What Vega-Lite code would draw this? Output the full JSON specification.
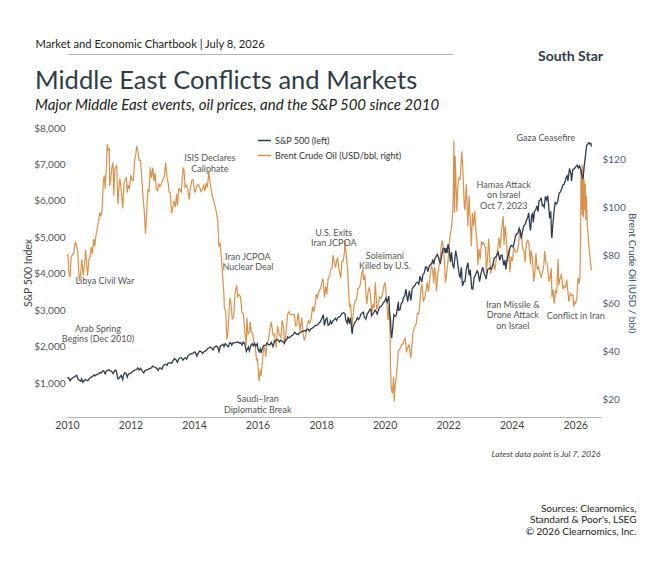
{
"$schema": "https://vega.github.io/schema/vega-lite/v6.json",
"width": 534, "height": 289,
"autosize": {"type": "none"},
"padding": {"left": 67, "top": 128, "right": 61, "bottom": 145},
"background": "white",
"title": {"text": "Middle East Conflicts and Markets", "subtitle": "Major Middle East events, oil prices, and the S&P 500 since 2010", "anchor": "start", "frame": "group", "dx": -32, "offset": -75, "fontSize": 25.5, "fontWeight": "normal", "color": "#2f3b47", "font": "Lato", "subtitleFont": "Lato", "subtitleFontSize": 15, "subtitleFontStyle": "italic", "subtitleColor": "#222222", "subtitlePadding": 4},
"config": {"font": "Lato", "view": {"stroke": null}},
"datasets": {
"oil": [
{"date":"2010-01-04","value":80.1},{"date":"2010-01-11","value":80.5},{"date":"2010-01-25","value":72.6},{"date":"2010-02-05","value":71.2},{"date":"2010-02-19","value":79.8},{"date":"2010-03-05","value":80.5},{"date":"2010-03-19","value":81.0},{"date":"2010-04-06","value":86.0},{"date":"2010-04-20","value":84.3},{"date":"2010-05-04","value":82.1},{"date":"2010-05-20","value":71.5},{"date":"2010-05-25","value":69.5},{"date":"2010-06-08","value":73.1},{"date":"2010-06-21","value":78.5},{"date":"2010-07-06","value":71.8},{"date":"2010-07-20","value":76.0},{"date":"2010-08-04","value":82.5},{"date":"2010-08-16","value":76.3},{"date":"2010-08-25","value":71.8},{"date":"2010-09-10","value":78.4},{"date":"2010-09-24","value":79.9},{"date":"2010-10-07","value":83.7},{"date":"2010-10-20","value":80.8},{"date":"2010-11-04","value":87.0},{"date":"2010-11-16","value":84.0},{"date":"2010-12-01","value":88.9},{"date":"2010-12-15","value":91.4},{"date":"2010-12-31","value":94.8},
{"date":"2011-01-12","value":98.0},{"date":"2011-01-26","value":96.5},{"date":"2011-02-09","value":99.4},{"date":"2011-02-23","value":111.3},{"date":"2011-03-07","value":113.5},{"date":"2011-03-16","value":108.0},{"date":"2011-03-31","value":117.4},{"date":"2011-04-08","value":126.6},{"date":"2011-04-20","value":123.8},{"date":"2011-05-02","value":125.0},{"date":"2011-05-06","value":109.1},{"date":"2011-05-17","value":111.6},{"date":"2011-05-31","value":116.7},{"date":"2011-06-14","value":119.0},{"date":"2011-06-23","value":105.1},{"date":"2011-07-06","value":116.5},{"date":"2011-07-27","value":117.6},{"date":"2011-08-09","value":101.5},{"date":"2011-08-22","value":108.4},{"date":"2011-09-02","value":112.3},{"date":"2011-09-22","value":105.4},{"date":"2011-10-04","value":99.8},{"date":"2011-10-19","value":110.3},{"date":"2011-11-04","value":111.9},{"date":"2011-11-15","value":112.8},{"date":"2011-11-25","value":106.4},{"date":"2011-12-07","value":109.6},{"date":"2011-12-21","value":107.8},
{"date":"2012-01-05","value":113.7},{"date":"2012-01-19","value":111.6},{"date":"2012-02-03","value":111.4},{"date":"2012-02-17","value":119.6},{"date":"2012-02-29","value":121.8},{"date":"2012-03-13","value":125.9},{"date":"2012-03-28","value":122.9},{"date":"2012-04-11","value":119.8},{"date":"2012-04-26","value":119.9},{"date":"2012-05-09","value":112.7},{"date":"2012-05-23","value":105.4},{"date":"2012-06-05","value":99.8},{"date":"2012-06-22","value":89.2},{"date":"2012-07-06","value":98.2},{"date":"2012-07-19","value":107.8},{"date":"2012-08-02","value":106.5},{"date":"2012-08-16","value":116.9},{"date":"2012-08-30","value":112.5},{"date":"2012-09-14","value":116.7},{"date":"2012-09-27","value":111.0},{"date":"2012-10-10","value":114.5},{"date":"2012-10-25","value":107.8},{"date":"2012-11-07","value":107.2},{"date":"2012-11-21","value":109.9},{"date":"2012-12-05","value":108.9},{"date":"2012-12-19","value":110.0},
{"date":"2013-01-09","value":111.9},{"date":"2013-01-25","value":113.3},{"date":"2013-02-08","value":118.9},{"date":"2013-02-26","value":112.2},{"date":"2013-03-08","value":110.9},{"date":"2013-03-21","value":106.6},{"date":"2013-04-04","value":106.3},{"date":"2013-04-17","value":97.7},{"date":"2013-05-01","value":99.9},{"date":"2013-05-15","value":102.9},{"date":"2013-05-31","value":100.4},{"date":"2013-06-14","value":105.9},{"date":"2013-06-24","value":100.9},{"date":"2013-07-09","value":107.8},{"date":"2013-07-19","value":108.1},{"date":"2013-08-07","value":106.3},{"date":"2013-08-27","value":116.6},{"date":"2013-09-06","value":116.1},{"date":"2013-09-20","value":108.6},{"date":"2013-10-04","value":109.5},{"date":"2013-10-22","value":107.8},{"date":"2013-11-07","value":103.5},{"date":"2013-11-20","value":108.0},{"date":"2013-12-06","value":111.6},{"date":"2013-12-20","value":111.8},
{"date":"2014-01-09","value":106.4},{"date":"2014-01-23","value":107.8},{"date":"2014-02-07","value":109.6},{"date":"2014-02-25","value":109.5},{"date":"2014-03-10","value":108.2},{"date":"2014-03-24","value":106.8},{"date":"2014-04-09","value":107.9},{"date":"2014-04-22","value":109.3},{"date":"2014-05-06","value":107.0},{"date":"2014-05-21","value":110.4},{"date":"2014-06-04","value":108.6},{"date":"2014-06-19","value":115.1},{"date":"2014-07-03","value":110.8},{"date":"2014-07-18","value":107.2},{"date":"2014-08-01","value":104.8},{"date":"2014-08-15","value":102.9},{"date":"2014-09-02","value":100.3},{"date":"2014-09-16","value":98.0},{"date":"2014-09-30","value":94.7},{"date":"2014-10-15","value":83.8},{"date":"2014-10-28","value":85.4},{"date":"2014-11-13","value":78.6},{"date":"2014-11-28","value":70.2},{"date":"2014-12-10","value":64.2},{"date":"2014-12-16","value":58.0},{"date":"2014-12-31","value":57.3},
{"date":"2015-01-13","value":45.2},{"date":"2015-01-26","value":48.2},{"date":"2015-02-09","value":57.8},{"date":"2015-02-17","value":62.5},{"date":"2015-03-02","value":60.0},{"date":"2015-03-17","value":53.5},{"date":"2015-04-02","value":54.9},{"date":"2015-04-16","value":63.9},{"date":"2015-05-06","value":67.8},{"date":"2015-05-19","value":63.0},{"date":"2015-06-03","value":63.8},{"date":"2015-06-19","value":63.0},{"date":"2015-07-06","value":56.5},{"date":"2015-07-21","value":56.1},{"date":"2015-08-07","value":48.6},{"date":"2015-08-24","value":42.7},{"date":"2015-08-31","value":54.2},{"date":"2015-09-14","value":47.6},{"date":"2015-09-30","value":48.4},{"date":"2015-10-09","value":52.7},{"date":"2015-10-22","value":48.0},{"date":"2015-11-05","value":47.9},{"date":"2015-11-19","value":44.1},{"date":"2015-12-04","value":43.0},{"date":"2015-12-21","value":36.4},{"date":"2015-12-31","value":37.3},
{"date":"2016-01-12","value":30.9},{"date":"2016-01-20","value":27.9},{"date":"2016-02-02","value":32.7},{"date":"2016-02-11","value":30.1},{"date":"2016-02-25","value":35.3},{"date":"2016-03-09","value":41.1},{"date":"2016-03-22","value":41.8},{"date":"2016-04-05","value":37.9},{"date":"2016-04-19","value":44.0},{"date":"2016-05-04","value":44.6},{"date":"2016-05-19","value":48.8},{"date":"2016-06-08","value":52.5},{"date":"2016-06-27","value":47.2},{"date":"2016-07-12","value":47.4},{"date":"2016-08-02","value":41.8},{"date":"2016-08-18","value":50.9},{"date":"2016-09-06","value":47.3},{"date":"2016-09-27","value":46.0},{"date":"2016-10-10","value":53.1},{"date":"2016-10-25","value":50.8},{"date":"2016-11-03","value":45.0},{"date":"2016-11-14","value":44.4},{"date":"2016-11-30","value":50.5},{"date":"2016-12-12","value":55.7},{"date":"2016-12-30","value":56.8},
{"date":"2017-01-13","value":55.5},{"date":"2017-01-27","value":55.5},{"date":"2017-02-14","value":55.6},{"date":"2017-02-28","value":55.6},{"date":"2017-03-14","value":50.9},{"date":"2017-03-28","value":51.3},{"date":"2017-04-11","value":56.2},{"date":"2017-04-27","value":51.8},{"date":"2017-05-05","value":48.6},{"date":"2017-05-24","value":54.2},{"date":"2017-06-07","value":48.1},{"date":"2017-06-21","value":44.8},{"date":"2017-07-07","value":46.7},{"date":"2017-07-27","value":51.5},{"date":"2017-08-10","value":52.9},{"date":"2017-08-24","value":52.0},{"date":"2017-09-08","value":53.8},{"date":"2017-09-26","value":59.0},{"date":"2017-10-10","value":56.6},{"date":"2017-10-27","value":60.4},{"date":"2017-11-07","value":64.2},{"date":"2017-11-21","value":62.6},{"date":"2017-12-11","value":65.7},{"date":"2017-12-27","value":66.4},
{"date":"2018-01-10","value":69.2},{"date":"2018-01-24","value":70.5},{"date":"2018-02-09","value":62.8},{"date":"2018-02-23","value":67.3},{"date":"2018-03-08","value":64.0},{"date":"2018-03-23","value":70.5},{"date":"2018-04-11","value":72.1},{"date":"2018-04-26","value":74.7},{"date":"2018-05-08","value":74.9},{"date":"2018-05-17","value":80.3},{"date":"2018-05-31","value":77.6},{"date":"2018-06-18","value":75.3},{"date":"2018-06-28","value":77.9},{"date":"2018-07-10","value":78.9},{"date":"2018-07-26","value":74.5},{"date":"2018-08-15","value":70.8},{"date":"2018-08-30","value":77.8},{"date":"2018-09-14","value":78.1},{"date":"2018-09-27","value":81.7},{"date":"2018-10-03","value":86.3},{"date":"2018-10-18","value":80.3},{"date":"2018-10-31","value":75.5},{"date":"2018-11-13","value":65.5},{"date":"2018-11-23","value":58.8},{"date":"2018-12-06","value":60.1},{"date":"2018-12-24","value":50.5},{"date":"2018-12-31","value":53.8},
{"date":"2019-01-14","value":59.0},{"date":"2019-01-29","value":61.3},{"date":"2019-02-11","value":61.5},{"date":"2019-02-27","value":66.3},{"date":"2019-03-12","value":66.7},{"date":"2019-03-26","value":67.9},{"date":"2019-04-10","value":71.7},{"date":"2019-04-25","value":74.6},{"date":"2019-05-07","value":69.9},{"date":"2019-05-20","value":72.0},{"date":"2019-05-31","value":64.5},{"date":"2019-06-12","value":59.9},{"date":"2019-06-25","value":65.1},{"date":"2019-07-10","value":67.0},{"date":"2019-07-24","value":63.2},{"date":"2019-08-07","value":56.2},{"date":"2019-08-22","value":60.0},{"date":"2019-09-03","value":58.3},{"date":"2019-09-16","value":69.0},{"date":"2019-09-30","value":60.8},{"date":"2019-10-03","value":57.7},{"date":"2019-10-18","value":59.4},{"date":"2019-11-05","value":62.9},{"date":"2019-11-20","value":62.4},{"date":"2019-12-05","value":63.4},{"date":"2019-12-26","value":67.9},
{"date":"2020-01-06","value":68.9},{"date":"2020-01-17","value":64.9},{"date":"2020-01-31","value":58.2},{"date":"2020-02-10","value":53.3},{"date":"2020-02-20","value":59.3},{"date":"2020-03-06","value":45.3},{"date":"2020-03-09","value":34.4},{"date":"2020-03-18","value":24.9},{"date":"2020-03-31","value":22.7},{"date":"2020-04-14","value":29.6},{"date":"2020-04-21","value":19.3},{"date":"2020-04-30","value":25.3},{"date":"2020-05-13","value":29.2},{"date":"2020-05-29","value":35.3},{"date":"2020-06-08","value":40.8},{"date":"2020-06-25","value":41.1},{"date":"2020-07-14","value":42.9},{"date":"2020-07-30","value":43.3},{"date":"2020-08-14","value":45.0},{"date":"2020-08-26","value":45.6},{"date":"2020-09-08","value":39.8},{"date":"2020-09-24","value":41.9},{"date":"2020-10-09","value":42.9},{"date":"2020-10-30","value":37.5},{"date":"2020-11-12","value":43.5},{"date":"2020-11-25","value":48.6},{"date":"2020-12-10","value":50.3},{"date":"2020-12-31","value":51.8},
{"date":"2021-01-13","value":56.1},{"date":"2021-01-29","value":55.9},{"date":"2021-02-11","value":61.1},{"date":"2021-02-25","value":66.9},{"date":"2021-03-08","value":68.2},{"date":"2021-03-23","value":60.8},{"date":"2021-04-09","value":62.9},{"date":"2021-04-22","value":65.4},{"date":"2021-05-05","value":68.9},{"date":"2021-05-20","value":65.1},{"date":"2021-06-08","value":72.2},{"date":"2021-06-24","value":75.6},{"date":"2021-07-06","value":74.5},{"date":"2021-07-19","value":68.6},{"date":"2021-07-30","value":75.4},{"date":"2021-08-12","value":71.3},{"date":"2021-08-20","value":65.2},{"date":"2021-09-01","value":71.6},{"date":"2021-09-17","value":75.3},{"date":"2021-09-30","value":78.5},{"date":"2021-10-12","value":83.4},{"date":"2021-10-25","value":86.4},{"date":"2021-11-10","value":82.6},{"date":"2021-11-26","value":72.7},{"date":"2021-12-01","value":68.9},{"date":"2021-12-16","value":73.0},{"date":"2021-12-31","value":77.8},
{"date":"2022-01-12","value":84.7},{"date":"2022-01-27","value":89.3},{"date":"2022-02-09","value":91.6},{"date":"2022-02-24","value":99.1},{"date":"2022-03-01","value":105.0},{"date":"2022-03-08","value":128.0},{"date":"2022-03-16","value":98.0},{"date":"2022-03-23","value":121.6},{"date":"2022-04-11","value":98.5},{"date":"2022-04-21","value":108.3},{"date":"2022-05-06","value":112.4},{"date":"2022-05-19","value":112.0},{"date":"2022-06-08","value":123.6},{"date":"2022-06-21","value":114.7},{"date":"2022-07-06","value":100.7},{"date":"2022-07-14","value":99.1},{"date":"2022-07-29","value":110.0},{"date":"2022-08-16","value":92.3},{"date":"2022-08-29","value":105.1},{"date":"2022-09-14","value":94.1},{"date":"2022-09-26","value":84.1},{"date":"2022-10-07","value":97.9},{"date":"2022-10-20","value":92.4},{"date":"2022-11-04","value":98.6},{"date":"2022-11-17","value":89.8},{"date":"2022-11-30","value":85.4},{"date":"2022-12-09","value":76.1},{"date":"2022-12-22","value":83.0},
{"date":"2023-01-05","value":78.7},{"date":"2023-01-19","value":86.2},{"date":"2023-01-30","value":84.9},{"date":"2023-02-14","value":85.6},{"date":"2023-02-28","value":83.9},{"date":"2023-03-07","value":83.3},{"date":"2023-03-17","value":72.9},{"date":"2023-03-31","value":79.8},{"date":"2023-04-12","value":87.3},{"date":"2023-04-27","value":77.7},{"date":"2023-05-04","value":72.5},{"date":"2023-05-22","value":75.9},{"date":"2023-06-07","value":76.9},{"date":"2023-06-22","value":74.1},{"date":"2023-07-07","value":78.5},{"date":"2023-07-24","value":82.7},{"date":"2023-08-09","value":87.6},{"date":"2023-08-23","value":83.2},{"date":"2023-09-06","value":90.6},{"date":"2023-09-27","value":96.5},{"date":"2023-10-06","value":84.6},{"date":"2023-10-19","value":92.4},{"date":"2023-11-02","value":86.9},{"date":"2023-11-16","value":77.4},{"date":"2023-11-30","value":82.8},{"date":"2023-12-12","value":73.2},{"date":"2023-12-27","value":79.7},
{"date":"2024-01-10","value":77.8},{"date":"2024-01-26","value":83.6},{"date":"2024-02-09","value":82.2},{"date":"2024-02-23","value":81.6},{"date":"2024-03-08","value":82.1},{"date":"2024-03-22","value":85.4},{"date":"2024-04-05","value":91.2},{"date":"2024-04-12","value":90.5},{"date":"2024-04-24","value":88.0},{"date":"2024-05-07","value":83.2},{"date":"2024-05-22","value":81.9},{"date":"2024-06-04","value":77.5},{"date":"2024-06-20","value":85.7},{"date":"2024-07-05","value":86.5},{"date":"2024-07-18","value":85.1},{"date":"2024-08-05","value":76.3},{"date":"2024-08-12","value":82.3},{"date":"2024-08-28","value":78.7},{"date":"2024-09-10","value":69.2},{"date":"2024-09-25","value":73.5},{"date":"2024-10-07","value":81.0},{"date":"2024-10-21","value":74.3},{"date":"2024-11-05","value":75.5},{"date":"2024-11-19","value":73.3},{"date":"2024-12-06","value":71.1},{"date":"2024-12-20","value":72.9},
{"date":"2025-01-06","value":76.3},{"date":"2025-01-15","value":82.0},{"date":"2025-01-28","value":77.5},{"date":"2025-02-11","value":77.0},{"date":"2025-02-26","value":72.5},{"date":"2025-03-05","value":69.3},{"date":"2025-03-19","value":70.8},{"date":"2025-04-02","value":74.9},{"date":"2025-04-09","value":62.8},{"date":"2025-04-23","value":66.1},{"date":"2025-05-05","value":60.2},{"date":"2025-05-20","value":65.4},{"date":"2025-06-02","value":64.6},{"date":"2025-06-19","value":78.9},{"date":"2025-06-26","value":67.7},{"date":"2025-07-10","value":70.2},{"date":"2025-07-28","value":72.5},{"date":"2025-08-12","value":66.1},{"date":"2025-08-29","value":67.5},{"date":"2025-09-12","value":66.9},{"date":"2025-09-26","value":70.1},{"date":"2025-10-09","value":65.2},{"date":"2025-10-20","value":61.0},{"date":"2025-11-05","value":64.4},{"date":"2025-11-20","value":63.5},{"date":"2025-12-05","value":63.8},{"date":"2025-12-16","value":58.9},{"date":"2025-12-31","value":61.0},
{"date":"2026-01-08","value":60.5},{"date":"2026-01-20","value":62.4},{"date":"2026-02-03","value":70.9},{"date":"2026-02-17","value":68.5},{"date":"2026-02-26","value":73.0},{"date":"2026-03-04","value":88.0},{"date":"2026-03-09","value":117.5},{"date":"2026-03-13","value":99.0},{"date":"2026-03-18","value":116.0},{"date":"2026-03-24","value":97.0},{"date":"2026-03-30","value":118.0},{"date":"2026-04-06","value":96.0},{"date":"2026-04-13","value":112.0},{"date":"2026-04-20","value":99.0},{"date":"2026-04-27","value":110.0},{"date":"2026-05-04","value":95.0},{"date":"2026-05-11","value":105.0},{"date":"2026-05-20","value":93.0},{"date":"2026-05-30","value":88.7},{"date":"2026-06-08","value":84.0},{"date":"2026-06-18","value":80.4},{"date":"2026-06-26","value":77.0},{"date":"2026-07-07","value":74.0}
],
"spx": [
{"date":"2010-01-04","value":1133},{"date":"2010-01-19","value":1150},{"date":"2010-02-05","value":1066},{"date":"2010-02-19","value":1109},{"date":"2010-03-05","value":1138},{"date":"2010-03-19","value":1160},{"date":"2010-04-06","value":1189},{"date":"2010-04-23","value":1217},{"date":"2010-05-07","value":1111},{"date":"2010-05-25","value":1074},{"date":"2010-06-07","value":1050},{"date":"2010-06-18","value":1117},{"date":"2010-07-02","value":1022},{"date":"2010-07-16","value":1065},{"date":"2010-07-30","value":1102},{"date":"2010-08-13","value":1079},{"date":"2010-08-27","value":1065},{"date":"2010-09-10","value":1110},{"date":"2010-09-24","value":1148},{"date":"2010-10-08","value":1166},{"date":"2010-10-22","value":1183},{"date":"2010-11-05","value":1225},{"date":"2010-11-19","value":1199},{"date":"2010-12-03","value":1225},{"date":"2010-12-17","value":1244},{"date":"2010-12-31","value":1258},
{"date":"2011-01-14","value":1293},{"date":"2011-01-28","value":1276},{"date":"2011-02-18","value":1343},{"date":"2011-03-04","value":1321},{"date":"2011-03-16","value":1257},{"date":"2011-04-01","value":1332},{"date":"2011-04-29","value":1364},{"date":"2011-05-13","value":1338},{"date":"2011-05-27","value":1331},{"date":"2011-06-15","value":1265},{"date":"2011-07-07","value":1353},{"date":"2011-07-22","value":1345},{"date":"2011-08-08","value":1119},{"date":"2011-08-19","value":1124},{"date":"2011-09-02","value":1174},{"date":"2011-09-16","value":1216},{"date":"2011-10-03","value":1099},{"date":"2011-10-14","value":1225},{"date":"2011-10-27","value":1285},{"date":"2011-11-11","value":1263},{"date":"2011-11-25","value":1159},{"date":"2011-12-09","value":1255},{"date":"2011-12-30","value":1258},
{"date":"2012-01-13","value":1289},{"date":"2012-01-27","value":1316},{"date":"2012-02-10","value":1343},{"date":"2012-02-24","value":1366},{"date":"2012-03-09","value":1370},{"date":"2012-03-26","value":1417},{"date":"2012-04-10","value":1358},{"date":"2012-04-27","value":1403},{"date":"2012-05-11","value":1353},{"date":"2012-06-01","value":1278},{"date":"2012-06-15","value":1342},{"date":"2012-06-29","value":1362},{"date":"2012-07-13","value":1356},{"date":"2012-07-27","value":1385},{"date":"2012-08-10","value":1405},{"date":"2012-08-24","value":1411},{"date":"2012-09-14","value":1466},{"date":"2012-09-28","value":1441},{"date":"2012-10-12","value":1429},{"date":"2012-10-26","value":1411},{"date":"2012-11-15","value":1353},{"date":"2012-11-30","value":1416},{"date":"2012-12-14","value":1413},{"date":"2012-12-28","value":1385},
{"date":"2013-01-11","value":1472},{"date":"2013-01-25","value":1503},{"date":"2013-02-08","value":1518},{"date":"2013-02-25","value":1488},{"date":"2013-03-08","value":1552},{"date":"2013-03-22","value":1556},{"date":"2013-04-05","value":1553},{"date":"2013-04-18","value":1541},{"date":"2013-05-03","value":1614},{"date":"2013-05-21","value":1669},{"date":"2013-06-07","value":1643},{"date":"2013-06-24","value":1573},{"date":"2013-07-12","value":1680},{"date":"2013-07-26","value":1691},{"date":"2013-08-09","value":1691},{"date":"2013-08-27","value":1631},{"date":"2013-09-13","value":1688},{"date":"2013-09-27","value":1691},{"date":"2013-10-08","value":1655},{"date":"2013-10-25","value":1759},{"date":"2013-11-08","value":1770},{"date":"2013-11-22","value":1804},{"date":"2013-12-06","value":1805},{"date":"2013-12-20","value":1818},{"date":"2013-12-31","value":1848},
{"date":"2014-01-15","value":1848},{"date":"2014-02-03","value":1741},{"date":"2014-02-21","value":1836},{"date":"2014-03-07","value":1878},{"date":"2014-03-21","value":1866},{"date":"2014-04-11","value":1815},{"date":"2014-04-25","value":1863},{"date":"2014-05-09","value":1878},{"date":"2014-05-23","value":1900},{"date":"2014-06-06","value":1949},{"date":"2014-06-20","value":1962},{"date":"2014-07-03","value":1985},{"date":"2014-07-18","value":1978},{"date":"2014-08-07","value":1910},{"date":"2014-08-22","value":1988},{"date":"2014-09-05","value":2007},{"date":"2014-09-19","value":2010},{"date":"2014-10-03","value":1967},{"date":"2014-10-15","value":1862},{"date":"2014-10-31","value":2018},{"date":"2014-11-14","value":2039},{"date":"2014-11-28","value":2067},{"date":"2014-12-12","value":2002},{"date":"2014-12-26","value":2088},
{"date":"2015-01-09","value":2044},{"date":"2015-01-30","value":1995},{"date":"2015-02-13","value":2096},{"date":"2015-02-27","value":2104},{"date":"2015-03-11","value":2040},{"date":"2015-03-23","value":2104},{"date":"2015-04-10","value":2102},{"date":"2015-04-24","value":2117},{"date":"2015-05-08","value":2116},{"date":"2015-05-21","value":2131},{"date":"2015-06-05","value":2092},{"date":"2015-06-19","value":2109},{"date":"2015-07-08","value":2046},{"date":"2015-07-20","value":2128},{"date":"2015-08-07","value":2077},{"date":"2015-08-25","value":1868},{"date":"2015-09-04","value":1921},{"date":"2015-09-17","value":1990},{"date":"2015-09-29","value":1884},{"date":"2015-10-16","value":2033},{"date":"2015-10-30","value":2079},{"date":"2015-11-13","value":2023},{"date":"2015-11-27","value":2090},{"date":"2015-12-11","value":2012},{"date":"2015-12-29","value":2078},
{"date":"2016-01-08","value":1922},{"date":"2016-01-20","value":1859},{"date":"2016-02-01","value":1940},{"date":"2016-02-11","value":1829},{"date":"2016-02-26","value":1948},{"date":"2016-03-11","value":2022},{"date":"2016-03-24","value":2036},{"date":"2016-04-08","value":2047},{"date":"2016-04-20","value":2102},{"date":"2016-05-06","value":2057},{"date":"2016-05-19","value":2040},{"date":"2016-06-08","value":2119},{"date":"2016-06-27","value":2000},{"date":"2016-07-15","value":2161},{"date":"2016-07-29","value":2173},{"date":"2016-08-15","value":2190},{"date":"2016-08-31","value":2170},{"date":"2016-09-09","value":2128},{"date":"2016-09-22","value":2177},{"date":"2016-10-07","value":2153},{"date":"2016-10-21","value":2141},{"date":"2016-11-04","value":2085},{"date":"2016-11-18","value":2182},{"date":"2016-12-02","value":2191},{"date":"2016-12-13","value":2271},{"date":"2016-12-30","value":2239},
{"date":"2017-01-13","value":2274},{"date":"2017-01-27","value":2295},{"date":"2017-02-10","value":2316},{"date":"2017-02-24","value":2367},{"date":"2017-03-01","value":2396},{"date":"2017-03-22","value":2348},{"date":"2017-04-13","value":2329},{"date":"2017-04-28","value":2384},{"date":"2017-05-12","value":2391},{"date":"2017-05-26","value":2416},{"date":"2017-06-09","value":2432},{"date":"2017-06-23","value":2438},{"date":"2017-07-07","value":2425},{"date":"2017-07-21","value":2473},{"date":"2017-08-04","value":2477},{"date":"2017-08-18","value":2426},{"date":"2017-09-01","value":2477},{"date":"2017-09-15","value":2500},{"date":"2017-09-29","value":2519},{"date":"2017-10-13","value":2553},{"date":"2017-10-27","value":2581},{"date":"2017-11-10","value":2582},{"date":"2017-11-24","value":2602},{"date":"2017-12-08","value":2651},{"date":"2017-12-22","value":2683},
{"date":"2018-01-12","value":2786},{"date":"2018-01-26","value":2873},{"date":"2018-02-08","value":2581},{"date":"2018-02-23","value":2747},{"date":"2018-03-09","value":2786},{"date":"2018-03-23","value":2588},{"date":"2018-04-06","value":2604},{"date":"2018-04-18","value":2708},{"date":"2018-05-03","value":2630},{"date":"2018-05-18","value":2713},{"date":"2018-06-01","value":2735},{"date":"2018-06-15","value":2780},{"date":"2018-06-29","value":2718},{"date":"2018-07-13","value":2801},{"date":"2018-07-27","value":2819},{"date":"2018-08-10","value":2833},{"date":"2018-08-29","value":2914},{"date":"2018-09-20","value":2931},{"date":"2018-10-05","value":2885},{"date":"2018-10-11","value":2728},{"date":"2018-10-29","value":2641},{"date":"2018-11-07","value":2813},{"date":"2018-11-23","value":2633},{"date":"2018-12-03","value":2790},{"date":"2018-12-14","value":2600},{"date":"2018-12-24","value":2351},{"date":"2018-12-31","value":2507},
{"date":"2019-01-11","value":2596},{"date":"2019-01-25","value":2665},{"date":"2019-02-08","value":2708},{"date":"2019-02-22","value":2793},{"date":"2019-03-08","value":2743},{"date":"2019-03-22","value":2801},{"date":"2019-04-05","value":2893},{"date":"2019-04-23","value":2934},{"date":"2019-05-03","value":2946},{"date":"2019-05-13","value":2812},{"date":"2019-05-31","value":2752},{"date":"2019-06-14","value":2887},{"date":"2019-06-28","value":2942},{"date":"2019-07-15","value":3014},{"date":"2019-07-26","value":3026},{"date":"2019-08-05","value":2845},{"date":"2019-08-16","value":2889},{"date":"2019-08-30","value":2926},{"date":"2019-09-13","value":3007},{"date":"2019-09-27","value":2962},{"date":"2019-10-08","value":2893},{"date":"2019-10-25","value":3023},{"date":"2019-11-08","value":3093},{"date":"2019-11-22","value":3110},{"date":"2019-12-06","value":3146},{"date":"2019-12-20","value":3221},{"date":"2019-12-31","value":3231},
{"date":"2020-01-17","value":3330},{"date":"2020-01-31","value":3225},{"date":"2020-02-19","value":3386},{"date":"2020-02-28","value":2954},{"date":"2020-03-09","value":2747},{"date":"2020-03-16","value":2386},{"date":"2020-03-23","value":2237},{"date":"2020-04-03","value":2489},{"date":"2020-04-17","value":2875},{"date":"2020-05-01","value":2831},{"date":"2020-05-15","value":2864},{"date":"2020-06-08","value":3232},{"date":"2020-06-11","value":3002},{"date":"2020-06-26","value":3009},{"date":"2020-07-10","value":3185},{"date":"2020-07-24","value":3216},{"date":"2020-08-07","value":3351},{"date":"2020-08-21","value":3397},{"date":"2020-09-02","value":3580},{"date":"2020-09-23","value":3237},{"date":"2020-10-12","value":3534},{"date":"2020-10-30","value":3270},{"date":"2020-11-13","value":3585},{"date":"2020-11-27","value":3638},{"date":"2020-12-11","value":3663},{"date":"2020-12-31","value":3756},
{"date":"2021-01-15","value":3768},{"date":"2021-01-29","value":3714},{"date":"2021-02-12","value":3934},{"date":"2021-03-04","value":3768},{"date":"2021-03-17","value":3974},{"date":"2021-04-01","value":4020},{"date":"2021-04-16","value":4185},{"date":"2021-04-30","value":4181},{"date":"2021-05-12","value":4063},{"date":"2021-05-28","value":4204},{"date":"2021-06-11","value":4247},{"date":"2021-06-25","value":4281},{"date":"2021-07-09","value":4370},{"date":"2021-07-19","value":4258},{"date":"2021-07-30","value":4395},{"date":"2021-08-13","value":4468},{"date":"2021-08-30","value":4529},{"date":"2021-09-10","value":4459},{"date":"2021-09-20","value":4358},{"date":"2021-10-04","value":4300},{"date":"2021-10-22","value":4544},{"date":"2021-11-05","value":4697},{"date":"2021-11-19","value":4698},{"date":"2021-11-30","value":4567},{"date":"2021-12-10","value":4712},{"date":"2021-12-20","value":4568},{"date":"2021-12-29","value":4793},
{"date":"2022-01-03","value":4797},{"date":"2022-01-14","value":4663},{"date":"2022-01-27","value":4327},{"date":"2022-02-09","value":4587},{"date":"2022-02-23","value":4225},{"date":"2022-03-08","value":4170},{"date":"2022-03-29","value":4632},{"date":"2022-04-13","value":4447},{"date":"2022-04-29","value":4132},{"date":"2022-05-12","value":3930},{"date":"2022-05-20","value":3901},{"date":"2022-06-02","value":4177},{"date":"2022-06-16","value":3667},{"date":"2022-06-30","value":3785},{"date":"2022-07-14","value":3790},{"date":"2022-07-29","value":4130},{"date":"2022-08-16","value":4305},{"date":"2022-08-31","value":3955},{"date":"2022-09-12","value":4110},{"date":"2022-09-30","value":3586},{"date":"2022-10-12","value":3577},{"date":"2022-10-28","value":3901},{"date":"2022-11-10","value":3956},{"date":"2022-11-30","value":4080},{"date":"2022-12-13","value":4020},{"date":"2022-12-28","value":3783},
{"date":"2023-01-13","value":3999},{"date":"2023-02-02","value":4179},{"date":"2023-02-24","value":3970},{"date":"2023-03-09","value":3918},{"date":"2023-03-13","value":3855},{"date":"2023-03-31","value":4109},{"date":"2023-04-14","value":4137},{"date":"2023-04-28","value":4169},{"date":"2023-05-12","value":4124},{"date":"2023-05-26","value":4205},{"date":"2023-06-15","value":4426},{"date":"2023-06-30","value":4450},{"date":"2023-07-14","value":4505},{"date":"2023-07-31","value":4589},{"date":"2023-08-18","value":4370},{"date":"2023-08-31","value":4508},{"date":"2023-09-14","value":4505},{"date":"2023-10-03","value":4229},{"date":"2023-10-16","value":4373},{"date":"2023-10-27","value":4117},{"date":"2023-11-10","value":4415},{"date":"2023-11-30","value":4568},{"date":"2023-12-14","value":4719},{"date":"2023-12-28","value":4783},
{"date":"2024-01-17","value":4739},{"date":"2024-01-31","value":4846},{"date":"2024-02-15","value":5030},{"date":"2024-02-29","value":5096},{"date":"2024-03-15","value":5117},{"date":"2024-03-28","value":5254},{"date":"2024-04-10","value":5161},{"date":"2024-04-19","value":4967},{"date":"2024-05-03","value":5128},{"date":"2024-05-21","value":5321},{"date":"2024-06-05","value":5354},{"date":"2024-06-20","value":5473},{"date":"2024-07-03","value":5537},{"date":"2024-07-16","value":5667},{"date":"2024-07-24","value":5427},{"date":"2024-08-05","value":5186},{"date":"2024-08-19","value":5608},{"date":"2024-08-30","value":5648},{"date":"2024-09-06","value":5408},{"date":"2024-09-20","value":5702},{"date":"2024-10-04","value":5751},{"date":"2024-10-18","value":5864},{"date":"2024-10-31","value":5705},{"date":"2024-11-11","value":6001},{"date":"2024-11-29","value":6032},{"date":"2024-12-06","value":6090},{"date":"2024-12-19","value":5867},{"date":"2024-12-31","value":5882},
{"date":"2025-01-10","value":5827},{"date":"2025-01-23","value":6119},{"date":"2025-02-07","value":6026},{"date":"2025-02-19","value":6144},{"date":"2025-03-03","value":5850},{"date":"2025-03-13","value":5522},{"date":"2025-03-26","value":5712},{"date":"2025-04-04","value":5074},{"date":"2025-04-08","value":4983},{"date":"2025-04-17","value":5283},{"date":"2025-05-02","value":5687},{"date":"2025-05-16","value":5958},{"date":"2025-05-30","value":5912},{"date":"2025-06-13","value":5977},{"date":"2025-06-30","value":6205},{"date":"2025-07-15","value":6244},{"date":"2025-07-31","value":6339},{"date":"2025-08-15","value":6450},{"date":"2025-08-29","value":6460},{"date":"2025-09-15","value":6615},{"date":"2025-09-30","value":6688},{"date":"2025-10-10","value":6552},{"date":"2025-10-28","value":6890},{"date":"2025-11-14","value":6734},{"date":"2025-11-20","value":6538},{"date":"2025-12-05","value":6870},{"date":"2025-12-22","value":6880},
{"date":"2026-01-09","value":6940},{"date":"2026-01-23","value":6980},{"date":"2026-02-06","value":6900},{"date":"2026-02-20","value":6960},{"date":"2026-03-06","value":6850},{"date":"2026-03-20","value":6700},{"date":"2026-04-01","value":6600},{"date":"2026-04-15","value":6950},{"date":"2026-04-30","value":7250},{"date":"2026-05-12","value":7520},{"date":"2026-05-26","value":7560},{"date":"2026-06-08","value":7600},{"date":"2026-06-19","value":7560},{"date":"2026-06-30","value":7580},{"date":"2026-07-07","value":7490}
],
"events": [
{"date":"2014-07-01","y":120.6,"label":"ISIS Declares\nCaliphate"},
{"date":"2011-03-13","y":69.6,"label":"Libya Civil War"},
{"date":"2010-12-23","y":49.6,"label":"Arab Spring\nBegins (Dec 2010)"},
{"date":"2015-09-12","y":79.6,"label":"Iran JCPOA\nNuclear Deal"},
{"date":"2016-01-04","y":20.2,"label":"Saudi–Iran\nDiplomatic Break"},
{"date":"2018-05-27","y":89.6,"label":"U.S. Exits\nIran JCPOA"},
{"date":"2020-01-04","y":80.0,"label":"Soleimani\nKilled by U.S."},
{"date":"2023-10-02","y":109.6,"label":"Hamas Attack\non Israel\nOct 7, 2023"},
{"date":"2025-01-29","y":129.1,"label":"Gaza Ceasefire"},
{"date":"2024-01-15","y":59.6,"label":"Iran Missile &\nDrone Attack\non Israel"},
{"date":"2026-01-08","y":55.0,"label":"Conflict in Iran"}
]
},
"resolve": {"scale": {"y": "independent"}, "axis": {"x": "independent", "y": "independent"}},
"layer": [
{
"data": {"name": "oil"},
"mark": {"type": "line", "strokeWidth": 1.2, "clip": true},
"encoding": {
"x": {"field": "date", "type": "temporal", "scale": {"domain": [{"year": 2010, "month": 1, "date": 1}, {"year": 2026, "month": 10, "date": 25}]},
 "axis": {"orient": "top", "labels": false, "ticks": false, "tickSize": 0, "grid": false, "domain": true, "domainColor": "#b5b5b5", "domainWidth": 1, "domainDash": [386, 600], "offset": 74, "title": "Market and Economic Chartbook | July 8, 2026", "titleX": -32, "titleY": -10, "titleAlign": "left", "titleAnchor": "start", "titleBaseline": "middle", "titleFontSize": 11.2, "titleFontWeight": "normal", "titleColor": "#222222"}},
"y": {"field": "value", "type": "quantitative", "scale": {"domain": [12.9, 133.3], "nice": false, "zero": false},
 "axis": {"orient": "right", "values": [20, 40, 60, 80, 100, 120], "format": "$.0f", "labelFontSize": 10, "labelColor": "#4d5d7a", "labelPadding": 1, "ticks": false, "tickSize": 0, "domain": false, "grid": false, "title": "Brent Crude Oil (USD / bbl)", "titleFontSize": 10, "titleFontWeight": "normal", "titleColor": "#3b4b6b", "titlePadding": 1}},
"color": {"datum": "Brent Crude Oil (USD/bbl, right)", "type": "nominal"}
}
},
{
"data": {"name": "spx"},
"mark": {"type": "line", "strokeWidth": 1.3, "clip": true},
"encoding": {
"x": {"field": "date", "type": "temporal",
 "axis": {"orient": "bottom", "format": "%Y", "tickCount": {"interval": "year", "step": 2}, "labelFlush": false, "labelFontSize": 10.5, "labelColor": "#444444", "labelPadding": 3, "ticks": false, "tickSize": 0, "grid": false, "domain": true, "domainColor": "#b5b5b5", "domainWidth": 1, "title": "Latest data point is Jul 7, 2026", "titleFontStyle": "italic", "titleFontWeight": "normal", "titleFontSize": 8.5, "titleColor": "#444444", "titleAlign": "right", "titleAnchor": "end", "titleX": 533, "titleY": 36, "titleBaseline": "middle"}},
"y": {"field": "value", "type": "quantitative", "scale": {"domain": [70, 8000], "nice": false, "zero": false},
 "axis": {"orient": "left", "values": [1000, 2000, 3000, 4000, 5000, 6000, 7000, 8000], "format": "$,.0f", "labelFontSize": 10, "labelColor": "#555555", "labelPadding": 2, "ticks": false, "tickSize": 0, "domain": false, "grid": false, "title": "S&P 500 Index", "titleFontSize": 10.5, "titleFontWeight": "normal", "titleColor": "#444444", "titlePadding": 0}},
"color": {"datum": "S&P 500 (left)", "type": "nominal",
 "scale": {"domain": ["S&P 500 (left)", "Brent Crude Oil (USD/bbl, right)"], "range": ["#2e3c50", "#d8924c"]},
 "legend": {"orient": "none", "legendX": 190, "legendY": 5, "title": null, "symbolType": "stroke", "symbolSize": 169, "symbolStrokeWidth": 1.5, "labelFontSize": 9, "labelColor": "#333333", "labelOffset": 3, "rowPadding": 2, "padding": 0}}
}
},
{
"data": {"name": "events"},
"mark": {"type": "text", "fontSize": 9, "color": "#555555", "lineBreak": "\n", "lineHeight": 10.5, "align": "center", "baseline": "middle"},
"encoding": {
"x": {"field": "date", "type": "temporal",
 "axis": {"orient": "bottom", "labels": false, "ticks": false, "tickSize": 0, "grid": false, "domain": false, "title": ["Sources: Clearnomics,", "Standard & Poor's, LSEG", "© 2026 Clearnomics, Inc."], "titleX": 569, "titleY": 86, "titleAlign": "right", "titleBaseline": "top", "titleFontSize": 10, "titleFontWeight": "normal", "titleColor": "#222222", "titleLineHeight": 11.5}},
"y": {"field": "y", "type": "quantitative", "scale": {"domain": [12.9, 133.3], "nice": false, "zero": false},
 "axis": {"orient": "right", "labels": false, "ticks": false, "tickSize": 0, "grid": false, "domain": false, "title": "South Star", "titleAngle": 0, "titleX": -31, "titleY": -72, "titleAlign": "center", "titleBaseline": "middle", "titleFontSize": 14, "titleFontWeight": "bold", "titleColor": "#2f3b47"}},
"text": {"field": "label"}
}
}
]
}
